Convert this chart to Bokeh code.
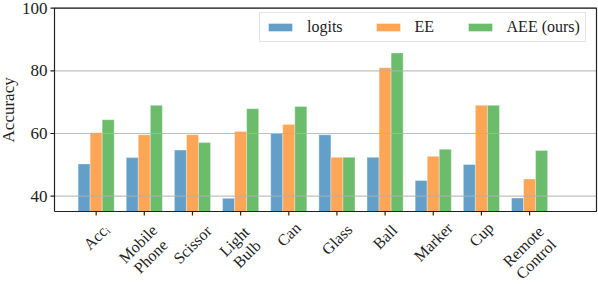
from bokeh.plotting import figure
from bokeh.models import ColumnDataSource, Legend, LegendItem, Range1d
from bokeh.core.properties import value
from bokeh.embed import file_html
from bokeh.resources import INLINE
import math

categories = ["Accᵢ", "Mobile\nPhone", "Scissor", "Light\nBulb", "Can", "Glass", "Ball", "Marker", "Cup", "Remote\nControl"]
logits = [50.3, 52.3, 54.7, 39.3, 60.0, 59.6, 52.4, 45.0, 50.1, 39.4]
ee = [60.2, 59.6, 59.6, 60.6, 62.9, 52.4, 81.0, 52.7, 69.0, 45.5]
aee = [64.4, 69.0, 57.1, 67.9, 68.6, 52.4, 85.7, 55.0, 69.0, 54.6]
series_names = ["logits", "EE", "AEE (ours)"]
colors = ["#1f77b4", "#ff7f0e", "#2ca02c"]
yticks = [40, 60, 80, 100]
ytick_labels = ["40", "60", "80", "100"]
y_label = "Accuracy"

FONT = "Liberation Serif"
INK = "#222222"
W, H = 598, 284
# axes box in canvas pixels
BOX_L, BOX_R, BOX_T, BOX_B = 54, 596, 7.7, 211
YMIN, YMAX = 35.1, 100
XL, XR = -0.865, 10.39
ppx = (BOX_R - BOX_L) / (XR - XL)
ppu = (BOX_B - BOX_T) / (YMAX - YMIN)

p = figure(width=W, height=H, output_backend="svg", toolbar_location=None,
           x_range=Range1d(XL - BOX_L / ppx, XR + (W - BOX_R) / ppx),
           y_range=Range1d(YMIN - (H - BOX_B) / ppu, YMAX + BOX_T / ppu),
           x_axis_location=None, y_axis_location=None,
           min_border=0, min_border_left=0, min_border_right=0, min_border_top=0, min_border_bottom=0)
p.outline_line_color = None
p.grid.visible = False

idx = list(range(len(categories)))
w = 0.25
renderers = []
for k, (vals, col) in enumerate(zip([logits, ee, aee], colors)):
    src = ColumnDataSource(dict(x=[i + (k - 1) * w for i in idx], top=vals))
    r = p.vbar(x="x", top="top", bottom=YMIN, width=w, source=src,
               fill_color=col, fill_alpha=0.7, line_color="white", line_alpha=0.35, line_width=1)
    renderers.append(r)

# horizontal grid lines, drawn over the bars
n = len(yticks)
p.segment(x0=[XL] * n, x1=[XR] * n, y0=yticks, y1=yticks,
          line_color="#b0b0b0", line_alpha=0.8, line_width=1.2)

# axes box
p.line(x=[XL, XR, XR, XL, XL], y=[YMIN, YMIN, YMAX, YMAX, YMIN], line_color=INK, line_width=1.2)

# x tick marks
tlx = 4 / ppu
p.segment(x0=idx, y0=[YMIN] * len(idx), x1=idx, y1=[YMIN - tlx] * len(idx),
          line_color=INK, line_width=1.2)
# y tick marks and labels
tly = 4 / ppx
p.segment(x0=[XL] * n, x1=[XL - tly] * n, y0=yticks, y1=yticks, line_color=INK, line_width=1.2)
p.text(x=[XL - 7 / ppx] * n, y=yticks, text=ytick_labels, text_align="right", text_baseline="middle",
       text_font=value(FONT), text_font_size="17px", text_color=INK)
# y axis title
p.text(x=[XL - 46 / ppx], y=[(YMIN + YMAX) / 2], text=[y_label], angle=math.pi / 2,
       text_align="center", text_baseline="middle",
       text_font=value(FONT), text_font_size="17px", text_color=INK)

# rotated category labels, centred under each tick (rotation=45, ha="center")
FS = 16
lx, ly = [], []
for i, c in enumerate(categories):
    lines = c.split("\n")
    L = max(len(s) for s in lines) * 0.45 * FS
    Ht = len(lines) * 1.1 * FS if len(lines) > 1 else 0.75 * FS
    bbox_h = 0.7071 * (L + Ht)
    center_px = 11 + bbox_h / 2
    lx.append(i)
    ly.append(YMIN - center_px / ppu)
p.text(x=lx, y=ly, text=categories, angle=math.pi / 4, text_align="center",
       text_baseline="middle", text_font=value(FONT), text_font_size=f"{FS}px",
       text_color=INK, text_line_height=1.05)

legend = Legend(items=[LegendItem(label=n_, renderers=[r]) for n_, r in zip(series_names, renderers)],
                orientation="horizontal", location=(259, H - 42.3))
legend.label_text_font = FONT
legend.label_text_font_size = "16px"
legend.label_text_color = INK
legend.glyph_width = 30
legend.glyph_height = 10
legend.label_height = 17
legend.label_standoff = 12
legend.spacing = 30
legend.padding = 5
legend.margin = 0
legend.border_line_color = "#cccccc"
legend.border_line_width = 1
legend.background_fill_alpha = 0.9
p.add_layout(legend)

open("out.html", "w").write(file_html(p, INLINE))
